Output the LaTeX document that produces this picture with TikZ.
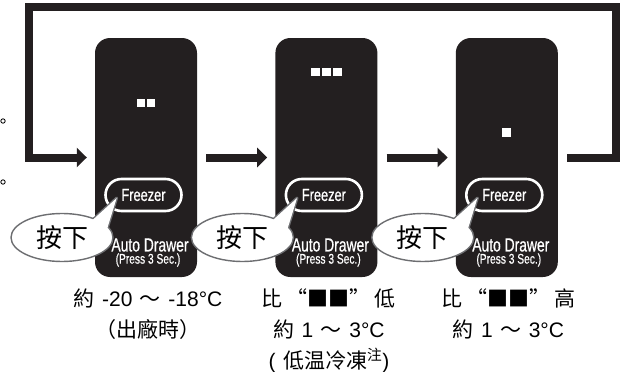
\documentclass[tikz,border=0pt]{standalone}
\usepackage{fontspec}
\setmainfont{Liberation Sans}
\newfontfamily\cjk{Noto Sans CJK TC}
\newfontfamily\condfont[FakeStretch=0.73, FakeBold=0.6]{Liberation Sans}
\newcommand\zh[1]{{\cjk #1}}
\newcommand\widespace{\spaceskip=7.5pt plus 1pt\relax}
\usetikzlibrary{arrows.meta, positioning, calc, shapes.geometric}
\definecolor{panelblack}{HTML}{231F20}
\definecolor{bubblegray}{HTML}{6D6E71}

\begin{document}
\begin{tikzpicture}[
        x=1pt, y=-1pt,
        panel/.style={
            rectangle,
            rounded corners=15pt,
            fill=panelblack,
            minimum width=102pt,
            minimum height=239pt,
            inner sep=0pt
        },
        lamp/.style={rectangle, fill=white, minimum size=#1, inner sep=0pt},
        lamp/.default=8.5pt,
        pill/.style={
            rectangle,
            rounded corners=16pt,
            draw=white,
            line width=2.6pt,
            fill=panelblack,
            text=white,
            minimum width=76pt,
            minimum height=32pt,
            inner sep=0pt,
            font=\condfont\fontsize{17.5}{17.5}\selectfont
        },
        keytext/.style={text=white, inner sep=0pt, font=\condfont\fontsize{#1}{#1}\selectfont},
        bubble/.style={
            ellipse,
            draw=bubblegray,
            line width=1.4pt,
            fill=white,
            minimum width=102pt,
            minimum height=48pt,
            inner sep=0pt,
            font=\cjk\fontsize{26}{26}\selectfont
        },
        tail/.style={bubblegray, line width=2.8pt, line join=round},
        flow/.style={line width=8pt, panelblack, line join=miter, -{Triangle[length=10pt, width=19pt]}},
        temp/.style={font=\fontsize{21}{31}\selectfont\widespace, align=center, anchor=base, inner sep=0pt}
    ]

    \useasboundingbox (0,0) rectangle (622,372);

    % Bedienfelder
    \node[panel] (p1) at (146,157.5) {};
    \node[panel, right=78pt of p1] (p2) {};
    \node[panel, right=78pt of p2] (p3) {};

    % Anzeige der Stufen
    \node[lamp] (l1a) at ($(p1.north)+(-5,65)$) {};
    \node[lamp] (l1b) at ($(p1.north)+(5,65)$) {};
    \foreach \dx [count=\j] in {-11,0,11}
        \node[lamp] (l2\j) at ($(p2.north)+(\dx,34)$) {};
    \node[lamp=9pt] (l3a) at ($(p3.north)+(0,94.5)$) {};

    % Tasten und Beschriftung
    \foreach \i in {1,2,3} {
        \node[pill] (f\i) at ($(p\i.center)+(-2.5,37.5)$) {Freezer};
        \node[keytext=19] (a\i) at ($(p\i.center)+(4,87.5)$) {Auto Drawer};
        \node[keytext=14] (r\i) at ($(p\i.center)+(2,102.5)$) {(Press 3 Sec.)};
    }

    % Sprechblasen
    \foreach \i in {1,2,3} {
        \coordinate (k\i) at ($(f\i.west)+(12.5,3)$);
        \coordinate (bc\i) at ($(f\i.center)+(-81.5,42.5)$);
        \draw[tail] ($(bc\i)+(30,-17)$) -- (k\i) -- ($(bc\i)+(44,-5)$);
        \node[bubble] (b\i) at (bc\i) {按下};
        \fill[white] ($(b\i.center)+(30,-17)$) -- (k\i) -- ($(b\i.center)+(44,-5)$) -- cycle;
    }

    % Pfeile
    \coordinate (tr) at (616,7);
    \coordinate (tl) at (29,7);
    \draw[flow] ([xshift=9pt]p1.east) -- ([xshift=-8pt]p2.west);
    \draw[flow] ([xshift=9pt]p2.east) -- ([xshift=-8pt]p3.west);
    \draw[flow] ([xshift=9pt]p3.east) -| (tr) -- (tl) |- ([xshift=-8pt]p1.west);

    % Randzeichen
    \draw[line width=0.8pt] (3,121) circle[radius=2.2pt];
    \draw[line width=0.8pt] (3,182) circle[radius=2.2pt];

    % Temperaturen (Basis = letzte Zeile)
    \node[temp] (t1) at ($(p1.south)+(2,60)$) {\zh{約} -20 \zh{～} -18°C\\\zh{（出廠時）}};
    \node[temp] (t2) at ($(p2.south)+(2.5,91)$) {\zh{比\hspace{4pt}“■■”\hspace{4pt}低}\\\zh{約} 1 \zh{～} 3°C\\( \zh{低温冷凍}\textsuperscript{\zh{注}})};
    \node[temp] (t3) at ($(p3.south)+(1.5,60)$) {\zh{比\hspace{4pt}“■■”\hspace{4pt}高}\\\zh{約} 1 \zh{～} 3°C};

\end{tikzpicture}
\end{document}
